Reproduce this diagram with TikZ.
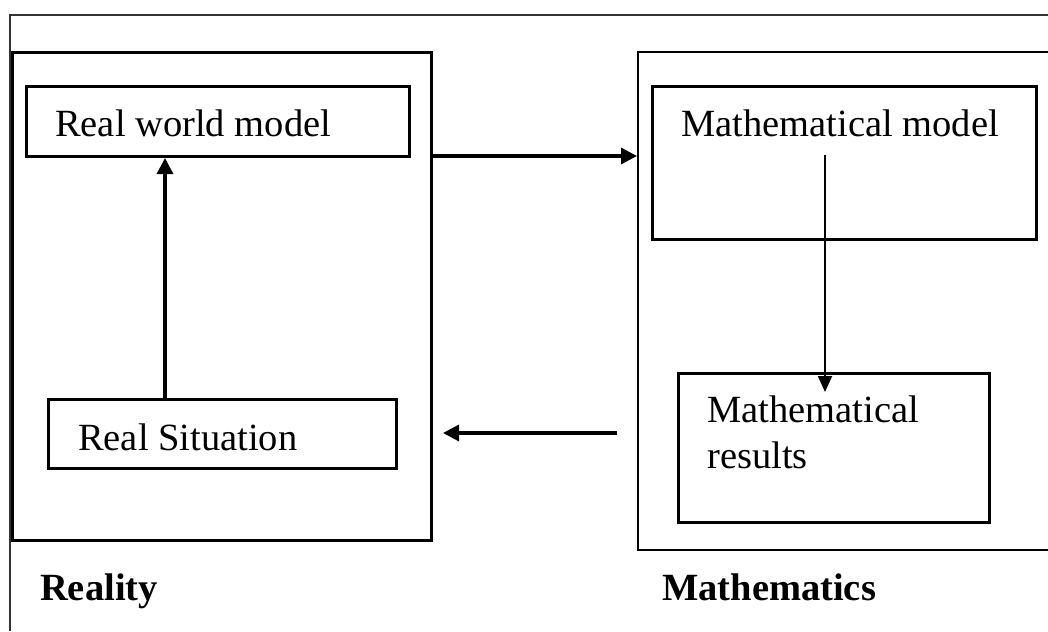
\documentclass[tikz,border=0pt]{standalone}
\usepackage{fontspec}
\setmainfont{Liberation Serif}
\usetikzlibrary{arrows.meta}
\tikzset{
  box/.style={draw, line width=3pt, inner sep=0pt, anchor=north west},
  thinbox/.style={draw, line width=2pt, inner sep=0pt, anchor=north west},
  lbl/.style={anchor=base west, inner sep=0pt, font=\fontsize{38.5}{46}\selectfont},
  title/.style={anchor=base west, inner sep=0pt, font=\fontsize{38.5}{46}\selectfont\bfseries},
  thick arrow/.style={line width=3.2pt, -{Triangle[length=16pt,width=16pt]}},
  thin arrow/.style={line width=2pt, -{Triangle[length=16pt,width=14pt]}}
}
\begin{document}
\begin{tikzpicture}[x=1pt,y=-1pt]
\useasboundingbox (0,0) rectangle (1048,631);
% outer frame (top and left edges visible)
\draw[line width=2pt, black!80] (10,631) -- (10,15) -- (1050,15);
% big boxes
\node (reality) [box, minimum width=419pt, minimum height=488pt] at (11,51) {};
\node (maths) [thinbox, minimum width=420pt, minimum height=498pt] at (637,51) {};
% inner boxes
\node (rwm) [box, minimum width=383pt, minimum height=70pt] at (25,85) {};
\node (mm) [box, minimum width=384pt, minimum height=153pt] at (651,85) {};
\node (rs) [box, minimum width=348pt, minimum height=69pt] at (47,398) {};
\node (mr) [box, minimum width=311pt, minimum height=149pt] at (677,372) {};
% texts
\node (trwm) [lbl] at (55,137) {Real world model};
\node (tmm) [lbl] at (681,137) {Mathematical model};
\node (trs) [lbl] at (78,450) {Real Situation};
\node (tmr1) [lbl] at (707,422) {Mathematical};
\node (tmr2) [lbl] at (707,468) {results};
\node (treal) [title] at (40,600) {Reality};
\node (tmath) [title] at (662,600) {Mathematics};
% arrows
\draw[thick arrow] (rs.north -| 165,0) -- (rwm.south -| 165,0);
\draw[thick arrow] (reality.east |- 0,156) -- (maths.west |- 0,156);
\coordinate (dstart) at (825,155);
\coordinate (dend) at (825,392);
\draw[thin arrow] (dstart) -- (dend);
\coordinate (lstart) at (617,433);
\draw[thick arrow] (lstart) -- (443,433);
\end{tikzpicture}
\end{document}
